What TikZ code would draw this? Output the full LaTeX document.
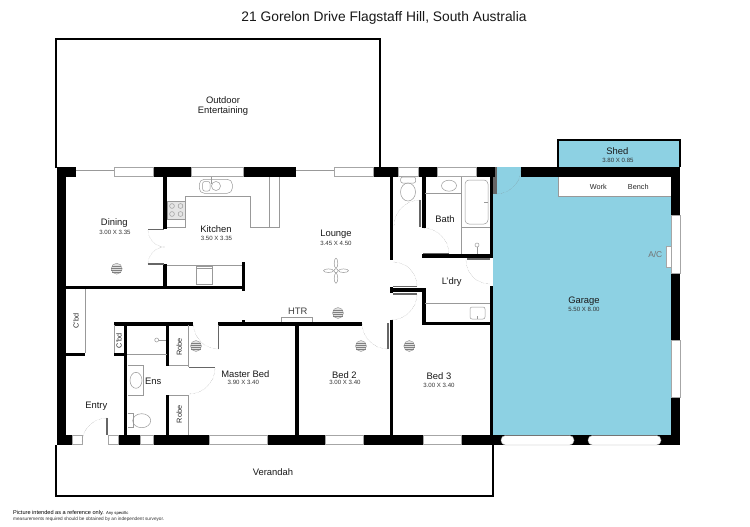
\documentclass[tikz,border=0pt]{standalone}
\usepackage{fontspec}
\setmainfont{Liberation Sans}
\definecolor{garageblue}{HTML}{8DD1E3}
\tikzset{
	wall/.style={fill=black},
	fitting/.style={draw=black!40,line width=0.5pt},
	winbox/.style={fill=white,draw=black!35,line width=0.4pt},
	leaf/.style={draw=black!60,line width=1.2pt},
	swing/.style={draw=black!50,line width=0.3pt,densely dotted},
	outline/.style={draw=black,line width=1.2pt},
	room/.style={font=\fontsize{9.4pt}{10pt}\selectfont,inner sep=0pt,text=black!90},
	dims/.style={font=\fontsize{6.1pt}{7pt}\selectfont,inner sep=0pt,text=black!80},
	side/.style={font=\fontsize{7.3pt}{8pt}\selectfont,inner sep=0pt,text=black!85},
	lightfit/.pic={
		\draw[fill=black!12,draw=black!45,line width=0.35pt] (0,0) circle (5.5pt);
		\draw[draw=black!50,line width=0.3pt] (-4.6,-3) -- (4.6,-3) (-5.3,-1) -- (5.3,-1) (-5.3,1) -- (5.3,1) (-4.6,3) -- (4.6,3);
	}
}
\begin{document}
\begin{tikzpicture}[x=1pt,y=-1pt]
	\useasboundingbox (0,0) rectangle (750,527);
	\fill[white] (0,0) rectangle (750,527);
	% garage and shed
	\fill[garageblue] (493,176) rectangle (671,435);
	\fill[garageblue] (496,167) rectangle (521,177);
	\draw[outline,fill=garageblue] (558,167) -- (558,140) -- (680,140) -- (680,167);
	\fill[white] (558,177) rectangle (671,196);
	\draw[fitting] (558,177) -- (558,196) -- (671,196);
	% outside areas
	\draw[outline] (56,168) -- (56,39) -- (380,39) -- (380,168);
	\draw[outline] (56,445) -- (56,496) -- (493,496) -- (493,445);
	% outer walls
	\fill[wall] (57,167) rectangle (66,445);
	\fill[wall] (57,167) rectangle (76,177);
	\fill[wall] (114,167) rectangle (243,177);
	\fill[wall] (243,167) rectangle (296,177);
	\fill[wall] (334,167) rectangle (495,177);
	\fill[wall] (521,167) rectangle (680,177);
	\fill[wall] (671,167) rectangle (680,445);
	\fill[wall] (57,435) rectangle (82,445);
	\fill[wall] (108,435) rectangle (680,445);
	\draw[fitting] (76,170.5) -- (114,170.5);
	\draw[fitting] (296,170.5) -- (334,170.5);
	% windows
	\draw[winbox] (114,167.5) rectangle (153,176.5);
	\draw[winbox] (191,167.5) rectangle (243,176.5);
	\draw[winbox] (334,167.5) rectangle (373,176.5);
	\draw[winbox] (398,167.5) rectangle (418,176.5);
	\draw[winbox] (437,167.5) rectangle (476,176.5);
	\draw[winbox] (72,435.5) rectangle (82,444.5);
	\draw[winbox] (108,435.5) rectangle (118,444.5);
	\draw[winbox] (140,435.5) rectangle (153,444.5);
	\draw[winbox] (209,435.5) rectangle (267,444.5);
	\draw[winbox] (325,435.5) rectangle (363,444.5);
	\draw[winbox] (423,435.5) rectangle (461,444.5);
	\draw[winbox] (671,215) rectangle (680,273);
	\draw[winbox] (671,340) rectangle (680,397);
	\draw[winbox] (666,246) rectangle (671,267);
	\draw[winbox,rounded corners=4.5pt] (501,435.5) rectangle (574,445);
	\draw[winbox,rounded corners=4.5pt] (588,435.5) rectangle (661,445);
	% inner walls
	\fill[wall] (66,285.7) rectangle (245,289);
	\fill[wall] (241.7,262) rectangle (245,291);
	\fill[wall] (163.3,177) rectangle (166.7,229);
	\fill[wall] (163.3,264) rectangle (166.7,286);
	\fill[wall] (390,177) rectangle (393.3,260);
	\fill[wall] (390,287) rectangle (393.3,293);
	\fill[wall] (390,320) rectangle (393.3,435);
	\fill[wall] (422.3,177) rectangle (425.6,228);
	\fill[wall] (422.3,254) rectangle (492,258);
	\fill[wall] (393,288) rectangle (425.7,291.5);
	\fill[wall] (422.4,288) rectangle (425.7,325);
	\fill[wall] (422.4,322) rectangle (492,325);
	\fill[wall] (490,177) rectangle (493,258);
	\fill[wall] (490,286) rectangle (493,435);
	\fill[wall] (114,322.3) rectangle (192.7,325.7);
	\fill[wall] (218,322.3) rectangle (362,325.7);
	\fill[wall] (241.5,320) rectangle (244.5,323);
	\fill[wall] (295,325) rectangle (298.7,435);
	\fill[wall] (124,323) rectangle (127.3,435);
	\fill[wall] (166,325) rectangle (169.3,365.7);
	\fill[wall] (166,395) rectangle (169.3,435);
	\fill[wall] (66,352.7) rectangle (85,356);
	\fill[wall] (114,352.7) rectangle (125,356);
	% door leaves
	\draw[leaf] (148,229.5) -- (164,229.5);
	\draw[leaf] (148,264) -- (164,264);
	\draw[leaf] (420,200) -- (420,227);
	\draw[leaf] (423,253.5) -- (449,253.5);
	\draw[leaf] (467,259) -- (490,259);
	\draw[leaf] (393,286.5) -- (417,286.5);
	\draw[leaf] (393,294) -- (417,294);
	\draw[leaf] (388,323) -- (388,349);
	\draw[leaf] (218.5,325) -- (218.5,349);
	\draw[leaf] (189,367.7) -- (215,367.7);
	\draw[leaf] (107,418) -- (107,435);
	\draw[leaf] (496,167) -- (496,194);
	\draw[leaf] (494,177) -- (494,194);
	% door swings
	\draw[swing] (148,230) arc[start angle=180,end angle=270,radius=17pt];
	\draw[swing] (148,264) arc[start angle=180,end angle=90,radius=17pt];
	\draw[swing] (420,200) arc[start angle=90,end angle=180,radius=26pt];
	\draw[swing] (449,254) arc[start angle=0,end angle=90,radius=26pt];
	\draw[swing] (466,260) arc[start angle=180,end angle=270,radius=24pt];
	\draw[swing] (417,286) arc[start angle=0,end angle=90,radius=24pt];
	\draw[swing] (417,294) arc[start angle=0,end angle=-90,radius=26pt];
	\draw[swing] (388,349) arc[start angle=270,end angle=180,radius=26pt];
	\draw[swing] (218.5,349) arc[start angle=270,end angle=180,radius=25pt];
	\draw[swing] (215,368) arc[start angle=0,end angle=-90,radius=26pt];
	\draw[swing] (107,418) arc[start angle=90,end angle=180,radius=25pt];
	\draw[swing] (496,194) arc[start angle=270,end angle=360,radius=25pt];
	% kitchen
	\draw[fitting,rounded corners=5pt] (199.3,179.3) rectangle (232.3,193.3);
	\draw[fitting,rounded corners=2pt] (202.7,181.5) rectangle (210,191);
	\draw[fitting] (216,186) ellipse (4.5pt and 4.5pt);
	\draw[fitting] (211.7,177) -- (211.7,184);
	\draw[fitting,fill=black!10] (167.3,201) rectangle (185,219);
	\draw[fitting] (172,206) circle (2.4pt);
	\draw[fitting] (180.5,206) circle (2.4pt);
	\draw[fitting] (172,214) circle (2.4pt);
	\draw[fitting] (180.5,214) circle (2.4pt);
	\draw[fitting] (167,227.7) -- (185.3,227.7) -- (185.3,196) -- (250,196) -- (250,227) -- (279,227) -- (279,177);
	\draw[fitting] (269.3,177) -- (269.3,227);
	\draw[fitting] (166.7,265.3) -- (242,265.3);
	\draw[fitting] (196,266) rectangle (212.7,284);
	\draw[fitting] (196,268.5) -- (212.7,268.5);
	% toilet room and bath
	\draw[fitting,rounded corners=2pt] (400.7,177) rectangle (415.7,183);
	\draw[fitting] (408,192) ellipse (7.5pt and 9pt);
	\draw[fitting] (449,185.7) ellipse (7.5pt and 5.5pt);
	\draw[fitting] (425,193) -- (461,193);
	\draw[fitting] (461,177) -- (461,254);
	\draw[fitting,rounded corners=4pt] (465,180) rectangle (488,224);
	\draw[fitting] (484,202) -- (488,202);
	\draw[fitting] (461,227) -- (490,227);
	\draw[fitting] (477,245) circle (2pt);
	\draw[fitting] (477,247) -- (477,254);
	% laundry
	\draw[fitting] (425,303) -- (490,303);
	\draw[fitting,rounded corners=2pt] (470,307) rectangle (485,319);
	\draw[fitting] (477,316) -- (477,319);
	% heater and fan
	\draw[fitting] (281.7,322) -- (281.7,317) -- (312.7,317) -- (312.7,322);
	\draw[fitting] (336,270.7) circle (2pt);
	\draw[fitting] (328.5,270.7) ellipse (5pt and 1.8pt);
	\draw[fitting] (343.5,270.7) ellipse (5pt and 1.8pt);
	\draw[fitting] (336,263.2) ellipse (1.8pt and 5pt);
	\draw[fitting] (336,278.2) ellipse (1.8pt and 5pt);
	% lights
	\pic at (116.7,268.7) {lightfit};
	\pic at (338,313) {lightfit};
	\pic at (196,346) {lightfit};
	\pic at (361,346) {lightfit};
	\pic at (409.3,346) {lightfit};
	% robes, cupboards and ensuite
	\draw[fitting] (85,289) -- (85,353);
	\draw[fitting] (114,325) -- (114,353);
	\draw[fitting] (127,354.3) -- (167,354.3);
	\draw[fitting] (169,365.7) -- (188.7,365.7);
	\draw[fitting] (188.7,325) -- (188.7,367);
	\draw[fitting] (169,395) -- (188.7,395) -- (188.7,435);
	\draw[fitting] (156.7,340) circle (2pt);
	\draw[fitting] (158.7,340) -- (166,340);
	\draw[fitting] (127.7,365.3) -- (143.7,365.3) -- (143.7,395.7) -- (127.7,395.7);
	\draw[fitting] (136,380.3) ellipse (6pt and 8pt);
	\draw[fitting] (127.7,413) -- (133,413) -- (133,427.3) -- (127.7,427.3);
	\draw[fitting] (141.7,420.7) ellipse (9pt and 7pt);
	% labels
	\node[font=\fontsize{13.8pt}{14pt}\selectfont,inner sep=0pt,text=black!90] (title) at (384,18) {21 Gorelon Drive Flagstaff Hill, South Australia};
	\node[room] (outdoor) at (223,100) {Outdoor};
	\node[room] (entertaining) at (223,111) {Entertaining};
	\node[room] (verandah) at (273,472) {Verandah};
	\node[room] (dining) at (114.3,223.3) {Dining};
	\node[dims] (diningdim) at (115,232) {3.00 X 3.35};
	\node[room] (kitchen) at (216,229.3) {Kitchen};
	\node[dims] (kitchendim) at (216.5,238.7) {3.50 X 3.35};
	\node[room] (lounge) at (336,234.7) {Lounge};
	\node[dims] (loungedim) at (336,243.5) {3.45 X 4.50};
	\node[room] (bath) at (445,219) {Bath};
	\node[room] (laundry) at (451.7,282) {L'dry};
	\node[room,text=black!75] (htr) at (297.7,311.7) {HTR};
	\node[room] (garage) at (584,301) {Garage};
	\node[dims] (garagedim) at (584,309.5) {5.50 X 8.00};
	\node[room] (shed) at (617.3,151) {Shed};
	\node[dims] (sheddim) at (618,160.3) {3.80 X 0.85};
	\node[side] (work) at (598.3,186.5) {Work};
	\node[side] (bench) at (638.3,186.5) {Bench};
	\node[side,text=black!55,font=\fontsize{8.4pt}{9pt}\selectfont] (ac) at (655.3,254.3) {A/C};
	\node[room] (master) at (245.3,373.7) {Master Bed};
	\node[dims] (masterdim) at (243.3,382.3) {3.90 X 3.40};
	\node[room] (bedtwo) at (344.3,375) {Bed 2};
	\node[dims] (bedtwodim) at (345,382.7) {3.00 X 3.40};
	\node[room] (bedthree) at (439,376.3) {Bed 3};
	\node[dims] (bedthreedim) at (439,385) {3.00 X 3.40};
	\node[room] (ens) at (153.3,381.7) {Ens};
	\node[room] (entry) at (96.3,406) {Entry};
	\node[side,rotate=90] (cbdone) at (76,321) {C'bd};
	\node[side,rotate=90] (cbdtwo) at (119,340.7) {C'bd};
	\node[side,rotate=90] (robeone) at (179.3,346.7) {Robe};
	\node[side,rotate=90] (robetwo) at (179.3,414.3) {Robe};
	\node[anchor=west,inner sep=0pt,font=\fontsize{5.6pt}{6pt}\selectfont] (notice) at (13,513.5) {Picture intended as a reference only. {\fontsize{4.2pt}{5pt}\selectfont Any specific}};
	\node[anchor=west,inner sep=0pt,font=\fontsize{4.7pt}{5pt}\selectfont,text=black!80] (noticetwo) at (13,519) {measurements required should be obtained by an independent surveyor.};
\end{tikzpicture}
\end{document}
